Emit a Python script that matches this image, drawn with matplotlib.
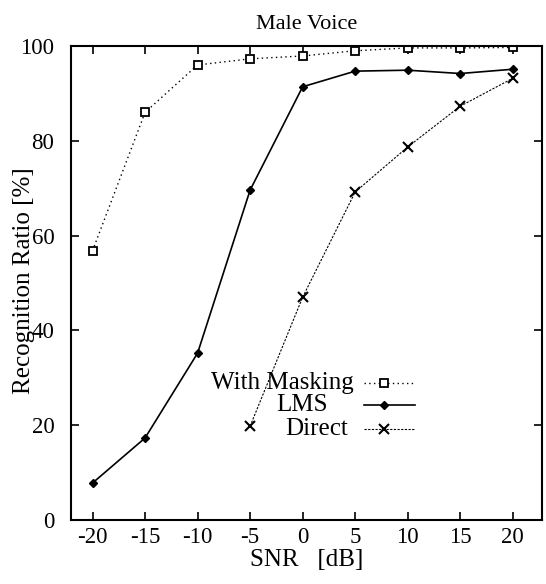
import matplotlib.pyplot as plt
import numpy as np

plt.rcParams['font.family'] = ['Liberation Serif', 'DejaVu Serif']
plt.rcParams['axes.unicode_minus'] = False

# data
snr = [-20, -15, -10, -5, 0, 5, 10, 15, 20]
masking = [56.8, 86.0, 96.0, 97.3, 97.9, 99.0, 99.6, 99.6, 99.7]
lms = [7.8, 17.3, 35.2, 69.6, 91.4, 94.7, 94.9, 94.2, 95.1]
snr_direct = [-5, 0, 5, 10, 15, 20]
direct = [19.8, 47.0, 69.2, 78.7, 87.3, 93.2]

labels = ['With Masking', 'LMS', 'Direct']
xticks = [-20, -15, -10, -5, 0, 5, 10, 15, 20]
yticks = [0, 20, 40, 60, 80, 100]

fig = plt.figure(figsize=(5.46, 5.84), dpi=100)
ax = fig.add_axes([0.130, 0.1096, 0.863, 0.8116])

sty_mask = dict(color='black', lw=1.0, ls=(0, (1, 2.4)), marker='s', ms=6,
                mfc='white', mec='black', mew=1.3)
sty_lms = dict(color='black', lw=1.2, ls='-', marker='D', ms=4.5,
               mfc='black', mec='black')
sty_dir = dict(color='black', lw=0.8, ls=(0, (2, 1.3)), marker='x', ms=7,
               mec='black', mew=1.5)

ax.plot(snr, masking, **sty_mask)
ax.plot(snr, lms, **sty_lms)
ax.plot(snr_direct, direct, **sty_dir)

ax.set_xlim(-22.05, 22.8)
ax.set_ylim(0, 100)
ax.set_xticks(xticks)
ax.set_xticklabels([str(t) for t in xticks])
ax.set_yticks(yticks)
ax.set_yticklabels([str(t) for t in yticks])
ax.tick_params(direction='in', length=6, width=1.2, top=True, right=True,
               labelsize=16.5)
ax.tick_params(axis='x', pad=5)
ax.tick_params(axis='y', pad=12)
for sp in ax.spines.values():
    sp.set_linewidth(1.5)

ax.set_title('Male Voice', fontsize=16, pad=12)
ax.set_xlabel('SNR   [dB]', fontsize=18, labelpad=1)
ax.set_ylabel('Recognition Ratio [%]', fontsize=18)
ax.yaxis.set_label_coords(-0.076, 0.505)

# gnuplot-style key: text then a line sample
key_text_x = [0.600, 0.545, 0.587]
key_y = [0.290, 0.242, 0.192]
for lab, tx, ky, sty in zip(labels, key_text_x, key_y, [sty_mask, sty_lms, sty_dir]):
    ax.text(tx, ky, lab, ha='right', va='center', fontsize=18,
            transform=ax.transAxes)
    ax.plot([0.622, 0.664, 0.730], [ky, ky, ky], transform=ax.transAxes,
            markevery=[1], clip_on=False, **sty)

fig.savefig('out.png', dpi=100)
